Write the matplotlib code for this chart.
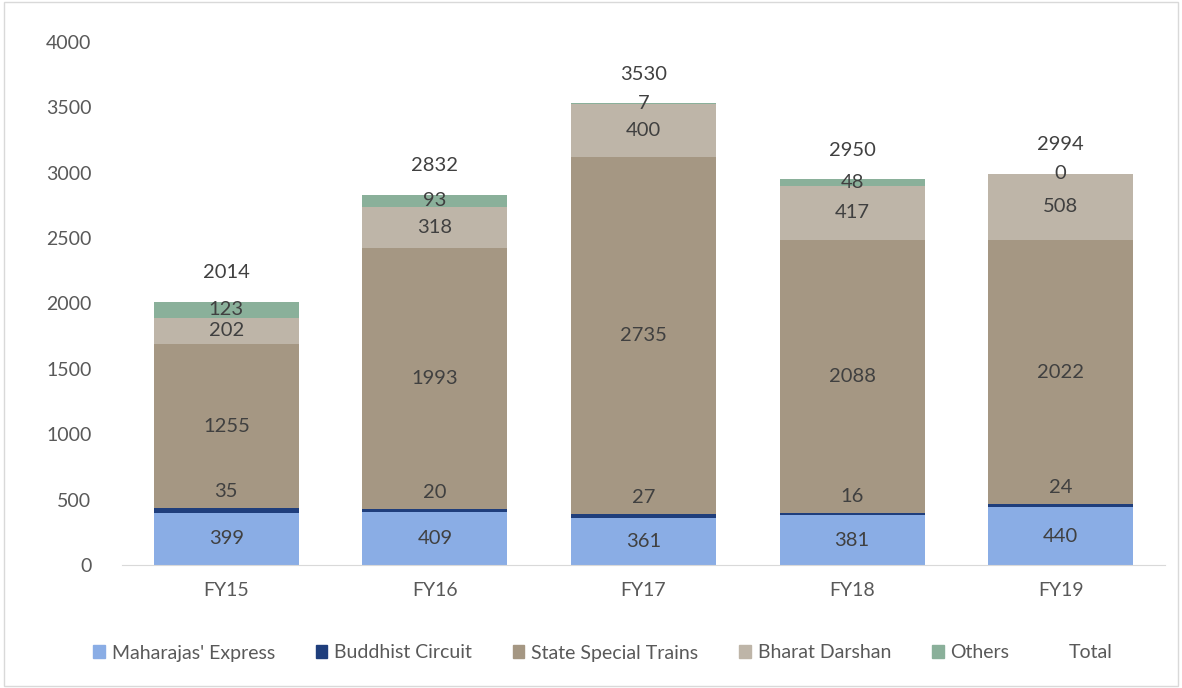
import matplotlib.pyplot as plt
from matplotlib.patches import Patch
from matplotlib.lines import Line2D

years = ['FY15', 'FY16', 'FY17', 'FY18', 'FY19']
maharajas = [399, 409, 361, 381, 440]
buddhist = [35, 20, 27, 16, 24]
state_special = [1255, 1993, 2735, 2088, 2022]
bharat_darshan = [202, 318, 400, 417, 508]
others = [123, 93, 7, 48, 0]
totals = [2014, 2832, 3530, 2950, 2994]

series = [
    ("Maharajas' Express", maharajas, '#8AADE5'),
    ('Buddhist Circuit', buddhist, '#1F3E7C'),
    ('State Special Trains', state_special, '#A59783'),
    ('Bharat Darshan', bharat_darshan, '#BEB5A8'),
    ('Others', others, '#8AB09A'),
]

plt.rcParams['font.family'] = ['Lato', 'DejaVu Sans']
text_color = '#404040'
fs = 14.5

fig = plt.figure(figsize=(11.82, 6.88), dpi=100)
ax = fig.add_axes([122 / 1182, 1 - 565 / 688, 1043 / 1182, 523 / 688])

x = list(range(len(years)))
bottom = [0] * len(years)
for name, vals, color in series:
    ax.bar(x, vals, width=0.695, bottom=bottom, color=color, label=name)
    for i, v in enumerate(vals):
        if name == 'Buddhist Circuit':
            ax.annotate(str(v), (i, bottom[i] + v), xytext=(0, 12), textcoords='offset points',
                        ha='center', va='center', fontsize=fs, color=text_color)
        else:
            ax.text(i, bottom[i] + v / 2, str(v), ha='center', va='center',
                    fontsize=fs, color=text_color)
    bottom = [b + v for b, v in zip(bottom, vals)]

for i, t in enumerate(totals):
    ax.annotate(str(t), (i, t), xytext=(0, 21), textcoords='offset points',
                ha='center', va='center', fontsize=fs, color=text_color)

ax.set_xlim(-0.5, 4.5)
ax.set_ylim(0, 4000)
ax.set_yticks(range(0, 4001, 500))
ax.set_xticks(x)
ax.set_xticklabels(years)
ax.tick_params(axis='both', length=0, labelsize=14, colors='#595959')
ax.tick_params(axis='y', pad=22)
ax.tick_params(axis='x', pad=12)
for s in ['top', 'right', 'left']:
    ax.spines[s].set_visible(False)
ax.spines['bottom'].set_color('#D9D9D9')

handles = [Patch(color=c, label=n) for n, _, c in series]
handles.append(Line2D([], [], color='none', label='Total'))
leg = fig.legend(handles=handles, loc='center', bbox_to_anchor=(0.51, 1 - 653 / 688),
                 ncol=6, frameon=False, fontsize=14, handlelength=0.6, handleheight=0.6,
                 handletextpad=0.35, columnspacing=2.1)
for t in leg.get_texts():
    t.set_color('#595959')

border = plt.Rectangle((0.003, 0.003), 0.994, 0.994, transform=fig.transFigure,
                       fill=False, edgecolor='#D9D9D9', linewidth=1)
fig.patches.append(border)

fig.savefig('out.png', dpi=100)
